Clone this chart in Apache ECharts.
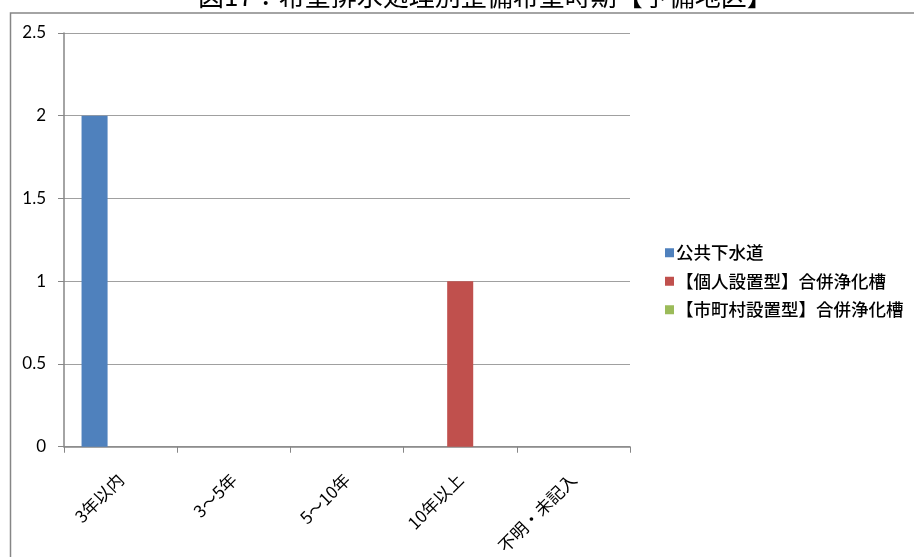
<!DOCTYPE html>
<html>
<head>
<meta charset="utf-8">
<script src="https://cdn.jsdelivr.net/npm/echarts@6/dist/echarts.min.js"></script>
<style>
html,body{margin:0;padding:0;background:#fff;}
#chart{width:914px;height:557px;}
</style>
</head>
<body>
<div id="chart"></div>
<script>
const titleText = '図17：希望排水処理別整備希望時期【予備地区】';
const categories = ['3年以内', '3～5年', '5～10年', '10年以上', '不明・未記入'];
const seriesNames = ['公共下水道', '【個人設置型】合併浄化槽', '【市町村設置型】合併浄化槽'];
const seriesColors = ['#4F81BD', '#C0504D', '#9BBB59'];
const publicSewer = [2, 0, 0, 0, 0];
const individualTank = [0, 0, 0, 1, 0];
const municipalTank = [0, 0, 0, 0, 0];
const yTicks = { min: 0, max: 2.5, interval: 0.5 };

const seriesValues = [publicSewer, individualTank, municipalTank];
const chart = echarts.init(document.getElementById('chart'));
const axisGray = '#868686';
const labelFont = 'Lato, "Noto Sans CJK JP", sans-serif';
const cjkFont = '"Noto Sans CJK JP", sans-serif';

chart.setOption({
  animation: false,
  backgroundColor: '#fff',
  title: {
    text: titleText,
    left: 193,
    top: -22,
    textStyle: { fontSize: 26, fontWeight: 'normal', color: '#000', fontFamily: '"Noto Sans CJK JP", serif' }
  },
  graphic: [{
    type: 'rect',
    shape: { x: 10.5, y: 13, width: 1000, height: 1000 },
    style: { fill: 'none', stroke: axisGray, lineWidth: 1.5 },
    silent: true,
    z: 10
  }],
  grid: { left: 64, right: 284, top: 33, bottom: 108 },
  legend: {
    orient: 'vertical',
    left: 660,
    top: 239,
    itemWidth: 9,
    itemHeight: 9,
    itemGap: 11,
    icon: 'rect',
    textStyle: { fontSize: 17.5, color: '#000', fontWeight: 500, fontFamily: cjkFont, padding: [0, 0, 0, -3] },
    data: seriesNames
  },
  xAxis: {
    type: 'category',
    data: categories,
    axisLine: { show: true, lineStyle: { color: axisGray, width: 1.5 } },
    axisTick: { show: true, length: 6, lineStyle: { color: axisGray } },
    axisLabel: { rotate: 45, fontSize: 17, color: '#000', margin: 30, fontFamily: cjkFont },
    splitLine: { show: false }
  },
  yAxis: {
    type: 'value',
    min: yTicks.min,
    max: yTicks.max,
    interval: yTicks.interval,
    axisLine: { show: true, lineStyle: { color: axisGray, width: 1.5 } },
    axisTick: { show: true, length: 6, lineStyle: { color: axisGray } },
    axisLabel: { fontSize: 17, color: '#000', margin: 18, fontFamily: labelFont },
    splitLine: { show: true, lineStyle: { color: '#a0a0a0', width: 1 } }
  },
  series: seriesNames.map((name, i) => ({
    name: name,
    type: 'bar',
    data: seriesValues[i],
    itemStyle: { color: seriesColors[i] },
    barGap: '0%',
    barCategoryGap: '31%'
  }))
});
</script>
</body>
</html>
